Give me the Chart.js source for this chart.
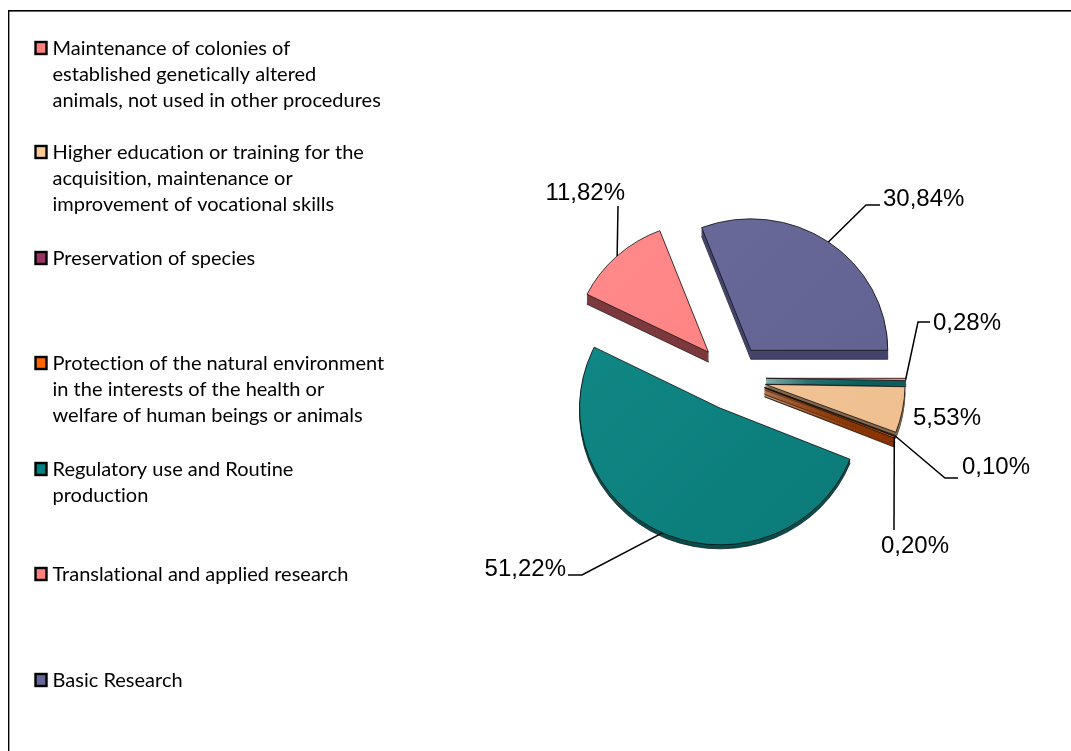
<!DOCTYPE html>
<html><head><meta charset="utf-8">
<style>html,body{margin:0;padding:0;background:#fff}#w{position:relative;width:1071px;height:751px}</style>
<script src="https://cdn.jsdelivr.net/npm/chart.js@4"></script></head>
<body><div id="w"><canvas id="c" width="1071" height="751"></canvas></div>
<script>
// clockwise from 3 o'clock, as in the picture
const sliceNames=['Translational and applied research','Higher education or training for the acquisition, maintenance or improvement of vocational skills','Preservation of species','Protection of the natural environment in the interests of the health or welfare of human beings or animals','Regulatory use and Routine production','Maintenance of colonies of established genetically altered animals, not used in other procedures','Basic Research'];
const sliceValues=[0.28,5.53,0.10,0.20,51.22,11.82,30.84];
const sliceLabels=['0,28%','5,53%','0,10%','0,20%','51,22%','11,82%','30,84%'];
const faceFrom=['#ff8080','#f2c699','#7a5c3e','#d05a10','#118a87','#ff8a8a','#69699a'];
const faceTo  =['#ff8080','#eebd8c','#7a5c3e','#d05a10','#0a7a78','#ff8080','#5f5f90'];
const sideColors=['#0a5f5e','#85684c','#85684c','#8a3400','#064f4e','#7c3a3e','#45456e'];
const explodePx=[35,35,36,36,27,35,35];
const nudgeX=[0,0,0,0,0,1,0];
const nudgeY=[0,0,-3,-3,6,-1,0];
const depthPx=[6,6,7,9,4,10,9];
const radiusScale=[1.03,1.03,1.03,1.03,1.035,1.0,1.01];
const tiltYs=[0.96,0.96,0.96,0.96,0.975,0.96,0.96];
const legendLines=[['Maintenance of colonies of','established genetically altered','animals, not used in other procedures'],['Higher education or training for the','acquisition, maintenance or','improvement of vocational skills'],['Preservation of species'],['Protection of the natural environment','in the interests of the health or','welfare of human beings or animals'],['Regulatory use and Routine','production'],['Translational and applied research'],['Basic Research']];
const legendColors=['#ff8080','#ffcc99','#993366','#ff6600','#008080','#ff8080','#666699'];
const legendY=[48,152,258,363,469,574,680];
// leader: elbow, end of the horizontal part; label anchor
const leaderPts=[[[918,322],[930,322]],null,[[945,478],[958,478]],[[894,530],[894,530]],[[582,575],[568,575]],[[618,206],[618,206]],[[866,205],[880,205]]];
const labelPos=[[933,323,'left'],[913,418,'left'],[962,467,'left'],[881,546,'left'],[566,569,'right'],[625,193,'right'],[883,199,'left']];

const pie3d={id:'pie3d',
 beforeDatasetsDraw(ch){
  const ctx=ch.ctx,arcs=ch.getDatasetMeta(0).data;
  const geom=i=>{const a=arcs[i],m=(a.startAngle+a.endAngle)/2;return{a,m,ox:Math.cos(m)*explodePx[i]+nudgeX[i],oy:Math.sin(m)*explodePx[i]*tiltYs[i]+nudgeY[i]};};
  const place=(g,i,dy)=>{const a=g.a;ctx.translate(g.ox,g.oy+dy);ctx.translate(a.x,a.y);ctx.scale(radiusScale[i],tiltYs[i]*radiusScale[i]);ctx.translate(-a.x,-a.y);};
  const drawAs=(a,opts)=>{const o=a.options;a.options=Object.assign({},o,opts);a.draw(ctx);a.options=o;};
  [4,5,6,0,1,2,3].forEach(i=>{
   const g=geom(i),a=g.a,R=a.outerRadius*radiusScale[i];
   for(let d=depthPx[i];d>=1;d--){ctx.save();place(g,i,d);drawAs(a,{backgroundColor:sideColors[i],borderColor:d==depthPx[i]?'#111':sideColors[i],borderWidth:d==depthPx[i]?0.7:0.3});ctx.restore();}
   const cx=a.x+g.ox,gr=ctx.createLinearGradient(cx-R,a.y-R,cx+R,a.y+R);gr.addColorStop(0,faceFrom[i]);gr.addColorStop(1,faceTo[i]);
   ctx.save();place(g,i,0);drawAs(a,{backgroundColor:gr,borderColor:'#111',borderWidth:0.8});ctx.restore();
  });
  return false;
 },
 afterDraw(ch){
  const ctx=ch.ctx,arcs=ch.getDatasetMeta(0).data;
  ctx.save();
  // frame
  ctx.fillStyle='#000';ctx.fillRect(0+8,10,1063,1.6);ctx.fillRect(8,10,1.4,741);
  // leaders
  ctx.strokeStyle='#000';ctx.lineWidth=1.5;ctx.lineJoin='miter';
  arcs.forEach((a,i)=>{
   const pts=leaderPts[i];if(!pts)return;
   const m=(a.startAngle+a.endAngle)/2,R=a.outerRadius*radiusScale[i];
   const x=a.x+Math.cos(m)*(explodePx[i]+R)+nudgeX[i],y=a.y+Math.sin(m)*(explodePx[i]+R)*tiltYs[i]+nudgeY[i];
   ctx.beginPath();ctx.moveTo(x,y);pts.forEach(p=>ctx.lineTo(p[0],p[1]));ctx.stroke();
  });
  // value labels
  ctx.font='24px "Liberation Sans"';ctx.fillStyle='#000';ctx.textBaseline='middle';
  sliceLabels.forEach((t,i)=>{const p=labelPos[i];ctx.textAlign=p[2];ctx.fillText(t,p[0],p[1]);});
  // legend
  ctx.textAlign='left';ctx.font='20px Lato';ctx.letterSpacing='0.01px';
  legendLines.forEach((ls,i)=>{
   const y=legendY[i];
   ctx.fillStyle=legendColors[i];ctx.fillRect(35.5,y-6,11,12);
   ctx.strokeStyle='#000';ctx.lineWidth=2.4;ctx.strokeRect(35.5,y-6,11,12);
   ctx.fillStyle='#000';
   ls.forEach((l,j)=>ctx.fillText(l,52.5,y+1+j*26));
  });
  ctx.restore();
 }};

new Chart(document.getElementById('c'),{type:'pie',
 data:{labels:sliceNames,datasets:[{data:sliceValues,backgroundColor:faceFrom,borderColor:'#111',borderWidth:0.8,borderAlign:'center'}]},
 plugins:[pie3d],
 options:{responsive:false,animation:false,rotation:90,
  layout:{padding:{left:731-136,right:1071-731-136,top:378-136,bottom:751-378-136}},
  plugins:{legend:{display:false},tooltip:{enabled:false}}}});
</script></body></html>
